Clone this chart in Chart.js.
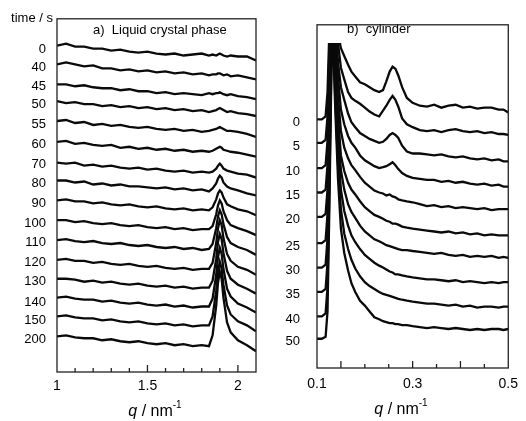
<!DOCTYPE html>
<html><head><meta charset="utf-8">
<script src="https://cdn.jsdelivr.net/npm/chart.js@4/dist/chart.umd.min.js"></script>
<style>
html,body{margin:0;padding:0;background:#fff;width:526px;height:421px;overflow:hidden}
#ca{position:absolute;left:0;top:0}
#cb{position:absolute;left:270px;top:0}
</style></head><body>
<canvas id="ca" width="270" height="421"></canvas>
<canvas id="cb" width="256" height="421"></canvas>
<script>
// ---------- Panel a: Liquid crystal phase ----------
const Q_A = [1.00,1.05,1.10,1.15,1.20,1.25,1.30,1.35,1.40,1.45,1.50,1.55,1.60,1.65,1.70,1.75,1.80,1.84,1.86,1.88,1.89,1.90,1.91,1.92,1.94,1.96,2.00,2.05,2.10];
const TIMES_A = ['0','40','45','50','55','60','70','80','90','100','110','120','130','140','150','200'];
const LEVELS_A = [325,307,288,270,250,229,209,190,170,150,131,110,91,70,52,33];
const A_T0   = [329,331,328,328,326,326,324,325,323,322,323,321,320,321,319,320,321,319,320,319,320,321,320,319,318,319,318,318,314];
const A_T40  = [310,312,310,308,309,306,306,304,305,303,304,302,303,301,302,300,301,299,300,300,301,301,300,299,300,298,299,297,295];
const A_T45  = [290,290,288,289,287,286,286,284,285,283,283,281,282,280,281,280,279,281,280,281,281,282,281,280,279,280,278,277,275];
const A_T50  = [273,271,272,270,270,268,269,267,268,266,267,265,266,264,265,263,264,262,263,264,265,266,265,264,262,263,261,260,258];
const A_T55  = [253,254,251,252,249,250,248,249,247,246,247,245,244,245,243,244,242,243,244,245,246,247,246,245,243,243,242,240,237];
const A_T60  = [232,233,230,231,229,228,229,226,227,225,226,224,225,223,224,222,223,222,223,225,226,227,226,224,223,222,221,219,217];
const A_T70  = [211,210,211,208,209,207,208,206,205,206,204,205,203,202,203,201,202,201,202,205,208,210,208,205,203,202,200,199,196];
const A_T80  = [193,193,191,192,189,190,188,189,187,187,186,185,186,184,185,183,184,182,185,190,195,198,196,191,187,185,183,180,178];
const A_T90  = [173,174,172,172,170,171,169,168,169,167,166,167,165,164,165,163,164,163,166,174,180,183,181,176,169,167,164,162,158];
const A_T100 = [153,153,151,152,150,149,150,148,147,148,146,145,146,144,145,143,144,144,147,159,168,173,170,162,153,148,145,142,138];
const A_T110 = [133,134,132,131,132,130,129,130,128,127,128,126,125,126,124,125,123,124,129,145,157,163,159,149,136,130,126,123,118];
const A_T120 = [113,114,112,112,110,111,109,108,109,107,106,107,105,104,105,103,104,104,110,130,145,153,148,135,119,112,106,103,98];
const A_T130 = [94,94,93,91,92,90,91,89,88,89,87,86,87,85,86,84,85,85,92,114,131,139,134,120,102,94,88,84,79];
const A_T140 = [75,76,74,73,73,71,72,70,69,70,68,67,68,66,67,65,66,66,74,98,116,125,119,104,84,76,69,65,60];
const A_T150 = [56,57,55,54,54,52,53,51,50,51,49,48,49,47,48,46,47,47,56,82,101,111,104,88,67,58,51,47,41];
const A_T200 = [36,37,35,34,34,32,33,31,30,31,29,28,29,27,28,26,27,26,37,67,90,101,94,75,50,40,32,27,21];
const SERIES_A = [A_T0,A_T40,A_T45,A_T50,A_T55,A_T60,A_T70,A_T80,A_T90,A_T100,A_T110,A_T120,A_T130,A_T140,A_T150,A_T200];
const XLAB_A = [1, 1.5, 2];
const MAJOR_A = [1.5, 2.0];
const MINOR_A = [1.1,1.2,1.3,1.4,1.6,1.7,1.8,1.9];

// ---------- Panel b: cylinder ----------
const Q_B = [0.100,0.110,0.118,0.122,0.126,0.132,0.138,0.144,0.150,0.157,0.165,0.172,0.180,0.190,0.200,0.210,0.220,0.230,0.238,0.245,0.252,0.258,0.264,0.270,0.278,0.288,0.300,0.315,0.330,0.345,0.360,0.375,0.390,0.405,0.420,0.435,0.450,0.465,0.480,0.490,0.500];
const TIMES_B = ['0','5','10','15','20','25','30','35','40','50'];
const LEVELS_B = [252,227,202,177,152,125,100,75,50,27];
const B_T0  = [255,255,258,283,348,408,378,343,328,320,311,304,299,293,291,288,285,283,285,294,304,309,307,300,288,277,272,269,268,270,267,269,270,267,268,266,267,267,265,265,262];
const B_T5  = [231,231,234,258,328,398,368,333,308,296,283,277,274,271,267,263,260,258,264,269,275,279,275,268,256,250,247,244,243,244,242,244,245,243,242,243,241,242,240,240,239];
const B_T10 = [205,205,208,233,308,388,358,313,288,275,261,252,247,241,238,235,233,231,232,235,239,241,239,236,228,222,220,220,219,218,219,217,216,217,215,214,215,213,214,212,212];
const B_T15 = [180,180,183,208,288,378,348,298,265,250,238,231,226,218,213,210,207,205,206,207,209,211,208,204,200,197,195,194,193,193,191,192,190,191,189,188,189,187,188,186,186];
const B_T20 = [155,155,158,183,268,375,333,278,243,226,215,208,203,196,190,186,182,180,179,177,178,176,175,173,172,171,170,168,166,167,165,166,164,165,164,163,164,162,163,163,163];
const B_T25 = [128,128,131,158,248,380,318,258,218,202,190,183,178,171,165,161,157,155,153,151,150,148,148,147,145,144,143,142,141,140,139,140,138,139,137,138,136,137,136,136,136];
const B_T30 = [103,103,106,133,228,380,308,243,203,183,168,160,154,146,140,136,132,130,128,126,125,124,123,122,121,121,120,119,118,117,118,116,115,116,114,115,114,115,113,114,113];
const B_T35 = [78,78,81,108,208,375,293,228,183,161,146,136,129,122,116,112,108,105,103,101,99,98,96,96,95,94,93,92,91,91,90,89,90,88,89,88,87,88,87,88,88];
const B_T40 = [53,53,56,83,188,370,278,208,163,138,122,111,102,94,88,84,81,78,76,75,74,73,72,71,70,69,68,67,66,66,65,64,65,63,64,62,63,63,62,63,63];
const B_T50 = [30,30,32,58,168,365,268,193,143,118,100,87,78,69,64,58,52,50,48,47,46,46,45,45,44,44,43,42,41,42,41,40,41,40,39,40,39,40,40,39,40];
const SERIES_B = [B_T0,B_T5,B_T10,B_T15,B_T20,B_T25,B_T30,B_T35,B_T40,B_T50];
const XLAB_B = [0.1, 0.3, 0.5];
const MAJOR_B = [0.15, 0.3, 0.4];
const MINOR_B = [0.2, 0.25, 0.35, 0.45];

const FONT = '"Liberation Sans", Arial, Helvetica, sans-serif';

function drawQTitle(ctx, cx, cy) {
  ctx.save();
  ctx.fillStyle = '#000';
  ctx.textBaseline = 'alphabetic';
  ctx.textAlign = 'left';
  ctx.font = 'italic 16px ' + FONT; const w1 = ctx.measureText('q').width;
  ctx.font = '16px ' + FONT; const w2 = ctx.measureText(' / nm').width;
  ctx.font = '10px ' + FONT; const w3 = ctx.measureText('-1').width;
  let x = cx - (w1 + w2 + w3) / 2;
  const base = cy + 6;
  ctx.font = 'italic 16px ' + FONT; ctx.fillText('q', x, base); x += w1;
  ctx.font = '16px ' + FONT; ctx.fillText(' / nm', x, base); x += w2;
  ctx.font = '10px ' + FONT; ctx.fillText('-1', x, base - 8);
  ctx.restore();
}

function decorPlugin(cfg) {
  return {
    id: 'decor',
    afterDatasetsDraw(chart) {
      const {ctx, chartArea: a} = chart;
      ctx.save();
      if (cfg.box) {
        ctx.fillStyle = '#fff';
        ctx.fillRect(a.left + 1, cfg.box[0], a.right - a.left - 2, cfg.box[1] - cfg.box[0]);
      }
      ctx.fillStyle = '#000';
      ctx.font = '13px ' + FONT;
      ctx.textAlign = 'left';
      ctx.textBaseline = 'middle';
      ctx.fillText(cfg.title, cfg.titleX, cfg.titleY);
      ctx.restore();
    },
    afterDraw(chart) {
      const {ctx, chartArea: a, scales: {x}} = chart;
      ctx.save();
      ctx.strokeStyle = '#222';
      ctx.lineWidth = 1.3;
      ctx.strokeRect(a.left, a.top, a.right - a.left, a.bottom - a.top);
      cfg.major.forEach(v => {
        const px = x.getPixelForValue(v);
        ctx.beginPath(); ctx.moveTo(px, a.bottom); ctx.lineTo(px, a.bottom - 7); ctx.stroke();
      });
      cfg.minor.forEach(v => {
        const px = x.getPixelForValue(v);
        ctx.beginPath(); ctx.moveTo(px, a.bottom); ctx.lineTo(px, a.bottom - 4); ctx.stroke();
      });
      if (cfg.ylabel) {
        ctx.fillStyle = '#000';
        ctx.font = '13px ' + FONT;
        ctx.textAlign = 'right';
        ctx.textBaseline = 'middle';
        ctx.fillText(cfg.ylabel, cfg.ylabelX, cfg.ylabelY);
      }
      drawQTitle(ctx, cfg.qx, cfg.qy);
      ctx.restore();
    }
  };
}

function makeChart(id, q, series, p) {
  return new Chart(document.getElementById(id), {
    type: 'line',
    data: {
      datasets: series.map(ys => ({
        data: q.map((v, i) => ({x: v, y: ys[i]})),
        borderColor: '#0a0a0a',
        borderWidth: 2.3,
        pointRadius: 0,
        tension: 0,
        fill: false,
        clip: 0
      }))
    },
    options: {
      responsive: false,
      animation: false,
      devicePixelRatio: 1,
      layout: {padding: {top: 16, right: p.padRight, left: 0, bottom: 0}},
      plugins: {legend: {display: false}, tooltip: {enabled: false}},
      scales: {
        x: {
          type: 'linear', min: p.xmin, max: p.xmax,
          afterBuildTicks: s => { s.ticks = p.xlab.map(v => ({value: v})); },
          afterFit: s => { s.height = p.xHeight; },
          grid: {display: false, drawTicks: false},
          border: {display: false},
          ticks: {autoSkip: false, maxRotation: 0, padding: p.xPad, color: '#000',
                  font: {family: FONT, size: 14}, callback: v => String(v)}
        },
        y: {
          type: 'linear', min: 0, max: p.ymax,
          afterBuildTicks: s => { s.ticks = p.levels.map(v => ({value: v})); },
          afterFit: s => { s.width = p.yWidth; },
          grid: {display: false, drawTicks: false},
          border: {display: false},
          ticks: {autoSkip: false, padding: p.yPad, color: '#000',
                  font: {family: FONT, size: 13}, callback: (v, i) => p.times[i]}
        }
      }
    },
    plugins: [decorPlugin(p.decor)]
  });
}

makeChart('ca', Q_A, SERIES_A, {
  xmin: 1, xmax: 2.1, ymax: 356, xlab: XLAB_A, levels: LEVELS_A, times: TIMES_A,
  padRight: 14, xHeight: 49, yWidth: 57, xPad: 6, yPad: 11,
  decor: {major: MAJOR_A, minor: MINOR_A, title: 'a)  Liquid crystal phase', titleX: 93, titleY: 30,
          ylabel: 'time / s', ylabelX: 53, ylabelY: 18, qx: 155, qy: 410}
});
makeChart('cb', Q_B, SERIES_B, {
  xmin: 0.1, xmax: 0.5, ymax: 352, xlab: XLAB_B, levels: LEVELS_B, times: TIMES_B,
  padRight: 12, xHeight: 53, yWidth: 47, xPad: 8, yPad: 17,
  decor: {major: MAJOR_B, minor: MINOR_B, title: 'b)  cylinder', titleX: 77, titleY: 29, box: [19, 43],
          qx: 131, qy: 408}
});
</script>
</body></html>
